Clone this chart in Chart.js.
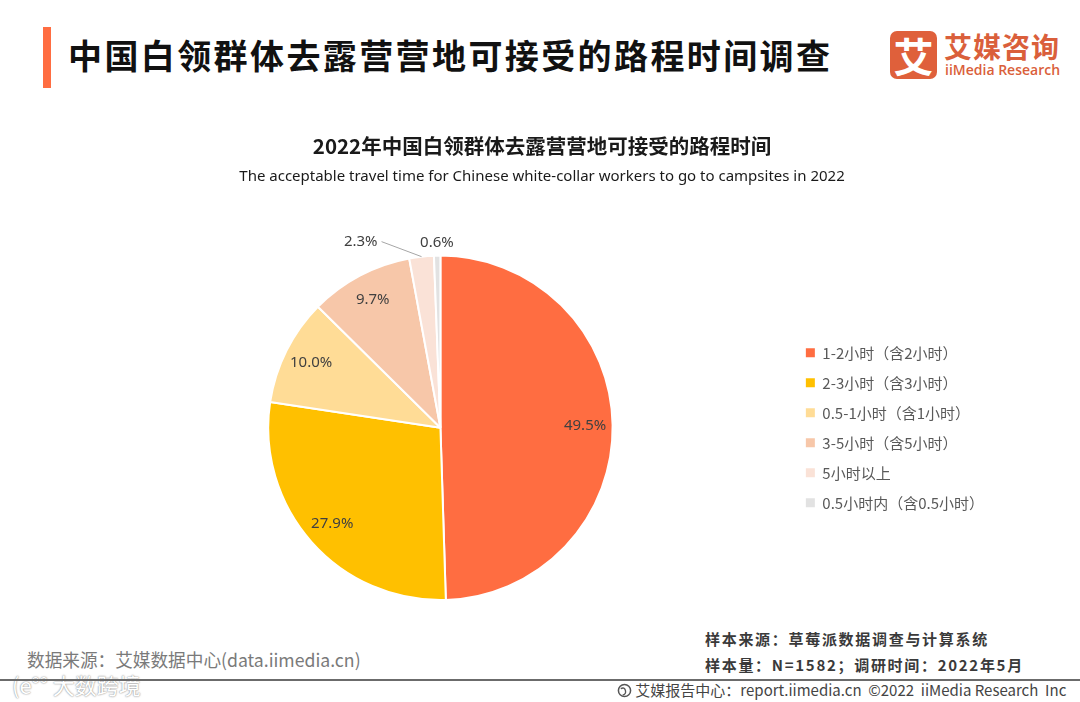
<!DOCTYPE html>
<html>
<head>
<meta charset="utf-8">
<script src="https://cdn.jsdelivr.net/npm/chart.js@4"></script>
<style>
    html, body { margin: 0; padding: 0; background: #fff; }
    body { width: 1080px; height: 702px; position: relative; overflow: hidden; font-family: "Noto Sans CJK SC", "Noto Sans", sans-serif; }
    .bar { position: absolute; left: 43px; top: 27px; width: 8px; height: 61px; background: #FF6D41; }
    .title { position: absolute; left: 68px; top: 32px; font-size: 34px; font-weight: bold; color: #111; letter-spacing: 2.4px; line-height: 46px; white-space: nowrap; }
    .logo-box { position: absolute; left: 890px; top: 31px; width: 47px; height: 48px; background: #DF603B; border-radius: 7px; color: #fff; font-size: 40px; font-weight: bold; line-height: 48px; text-align: center; }
    .logo-cn { position: absolute; left: 944px; top: 29px; font-size: 28px; font-weight: bold; color: #DA5F3B; letter-spacing: 1px; line-height: 34px; white-space: nowrap; }
    .logo-en { position: absolute; left: 945px; top: 61px; font-size: 14px; color: #DA5F3B; font-family: "Open Sans", sans-serif; font-weight: 600; line-height: 18px; white-space: nowrap; }
    #wrap { position: absolute; left: 0; top: 120px; width: 1080px; height: 481px; }
    .src { position: absolute; left: 27px; top: 646px; font-size: 18px; color: #7a7a7a; white-space: nowrap; transform: scaleX(0.98); transform-origin: left; line-height: 26px; }
    .note { position: absolute; left: 705px; font-size: 15px; font-weight: bold; color: #3a3a3a; white-space: nowrap; letter-spacing: 1.7px; line-height: 20px; }
    .rule { position: absolute; left: 0; top: 679px; width: 1080px; height: 2px; background: #6b6b6b; }
    .copy { position: absolute; left: 617px; top: 680px; font-size: 15px; color: #444; white-space: nowrap; line-height: 20px; }
    .wm { position: absolute; left: 12px; top: 668px; font-size: 22px; color: #fff; text-shadow: 0 0 2px #999, 0 0 1px #999; white-space: nowrap; }
</style>
</head>
<body>
<div class="bar"></div>
<div class="title">中国白领群体去露营营地可接受的路程时间调查</div>
<div class="logo-box">艾</div>
<div class="logo-cn">艾媒咨询</div>
<div class="logo-en">iiMedia Research</div>

<div id="wrap"><canvas id="myChart"></canvas></div>

<div class="src">数据来源：艾媒数据中心(data.iimedia.cn)</div>
<div class="note" style="top:629px;">样本来源：草莓派数据调查与计算系统</div>
<div class="note" style="top:655px;">样本量：N=1582；调研时间：2022年5月</div>
<div class="wm">(e°° 大数跨境</div>
<div class="rule"></div>
<div class="copy"><svg width="15" height="15" viewBox="0 0 16 16" style="vertical-align:-2px"><circle cx="8" cy="8" r="6.5" fill="none" stroke="#555" stroke-width="1.6"/><path d="M4 6 Q8 4 9 8 Q10 12 6 13" fill="none" stroke="#555" stroke-width="1.4"/></svg> 艾媒报告中心：report.iimedia.cn&nbsp;&nbsp;©2022&nbsp;&nbsp;iiMedia Research&nbsp;&nbsp;Inc</div>

<script>
const categories = ['1-2小时（含2小时）', '2-3小时（含3小时）', '0.5-1小时（含1小时）', '3-5小时（含5小时）', '5小时以上', '0.5小时内（含0.5小时）'];
const shares = [49.5, 27.9, 10.0, 9.7, 2.3, 0.6];
const sliceColors = ['#FF6D41', '#FFC000', '#FFDC96', '#F7C7A9', '#FAE2D7', '#E2E2E2'];

const chartTitle = '2022年中国白领群体去露营营地可接受的路程时间';
const chartSubtitle = 'The acceptable travel time for Chinese white-collar workers to go to campsites in 2022';

// percent labels: inside for big slices, outside for the small ones
const sliceLabels = {
    id: 'sliceLabels',
    afterDatasetsDraw(chart) {
        const ctx = chart.ctx;
        const arcs = chart.getDatasetMeta(0).data;
        ctx.save();
        ctx.font = '15px "Noto Sans", "Noto Sans CJK SC", sans-serif';
        ctx.fillStyle = '#404040';
        ctx.textBaseline = 'middle';
        arcs.forEach((arc, i) => {
            const v = shares[i];
            const { x, y, startAngle, endAngle, outerRadius } = arc.getProps(['x', 'y', 'startAngle', 'endAngle', 'outerRadius'], true);
            const mid = (startAngle + endAngle) / 2;
            const text = v.toFixed(1) + '%';
            if (v >= 5) {
                const r = outerRadius * 0.84;
                ctx.textAlign = 'center';
                ctx.fillText(text, x + Math.cos(mid) * r, y + Math.sin(mid) * r);
            } else if (i < shares.length - 1) {
                const ex = x + Math.cos(mid) * outerRadius;
                const ey = y + Math.sin(mid) * outerRadius;
                const lx = ex - 40;
                const ly = ey - 15;
                ctx.strokeStyle = '#A6A6A6';
                ctx.lineWidth = 1;
                ctx.beginPath();
                ctx.moveTo(ex, ey);
                ctx.lineTo(lx, ly);
                ctx.stroke();
                ctx.textAlign = 'right';
                ctx.fillText(text, lx - 4, ly);
            } else {
                const r = outerRadius + 13;
                ctx.textAlign = 'center';
                ctx.fillText(text, x + Math.cos(mid) * r, y + Math.sin(mid) * r);
            }
        });
        ctx.restore();
    }
};

function buildGraphic() {
    const ctx = document.getElementById('myChart').getContext('2d');

    const data = {
        labels: categories,
        datasets: [{
            data: shares,
            backgroundColor: sliceColors,
            borderColor: '#fff',
            borderWidth: 2
        }]
    };

    const config = {
        type: 'pie',
        data: data,
        options: {
            responsive: true,
            maintainAspectRatio: false,
            animation: false,
            layout: {
                padding: { left: 90, right: 86, top: 0, bottom: 0 }
            },
            plugins: {
                title: {
                    display: true,
                    text: chartTitle,
                    color: '#1a1a1a',
                    font: { size: 20.5, weight: 'bold', family: '"Noto Sans CJK SC", sans-serif' },
                    padding: { top: 14, bottom: 0 }
                },
                subtitle: {
                    display: true,
                    text: chartSubtitle,
                    color: '#1a1a1a',
                    font: { size: 15, family: '"Noto Sans", sans-serif' },
                    padding: { top: 9, bottom: 69 }
                },
                legend: {
                    position: 'right',
                    fullSize: false,
                    labels: {
                        boxWidth: 9,
                        boxHeight: 9,
                        padding: 15,
                        color: '#595959',
                        font: { size: 15, family: '"Noto Sans CJK SC", sans-serif' },
                        generateLabels(chart) {
                            const items = Chart.overrides.pie.plugins.legend.labels.generateLabels(chart);
                            items.forEach(it => { it.lineWidth = 0; it.strokeStyle = 'transparent'; });
                            return items;
                        }
                    }
                },
                tooltip: { enabled: false }
            }
        },
        plugins: [sliceLabels]
    };

    const myChart = new Chart(ctx, config);
}

buildGraphic();
</script>
</body>
</html>
